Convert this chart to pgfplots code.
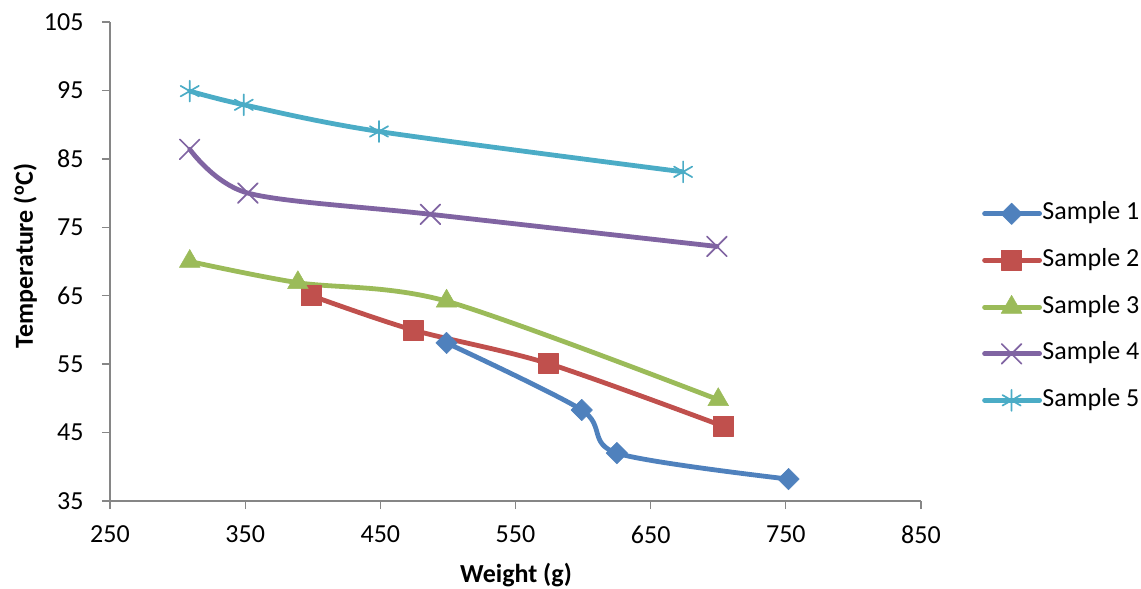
\documentclass[border=0pt]{standalone}
\usepackage{pgfplots}
\pgfplotsset{compat=1.18}
\usepackage{fontspec}
\setmainfont{Carlito}
\definecolor{sA}{HTML}{4F81BD}
\definecolor{sB}{HTML}{C0504D}
\definecolor{sC}{HTML}{9BBB59}
\definecolor{sD}{HTML}{8064A2}
\definecolor{sE}{HTML}{4BACC6}
\definecolor{axgray}{HTML}{868686}
\begin{document}
\begin{tikzpicture}
\begin{axis}[
  name=ax,
  scale only axis, width=811pt, height=479pt,
  xmin=250, xmax=850, ymin=35, ymax=105,
  xtick={250,350,...,850}, ytick={35,45,...,105},
  axis lines*=left,
  axis line style={draw=axgray, line width=1.3pt},
  major tick style={draw=axgray, line width=1.3pt},
  tick align=outside, major tick length=8pt,
  ticklabel style={font=\fontsize{26}{30}\selectfont, text=black},
  /pgf/number format/assume math mode=true,
  /pgf/number format/1000 sep={},
  yticklabel style={xshift=-15pt},
  xticklabel style={yshift=-13pt},
  clip=false,
  every axis plot/.append style={line width=4.8pt, line cap=round, line join=round, smooth, tension=0.5},
  legend style={at={(1.0752,0.624)}, anchor=north west, draw=none, fill=none,
    font=\fontsize{26}{30}\selectfont, row sep=23.5pt, inner sep=0pt,
    nodes={inner sep=0.5pt, text height=17pt, text depth=5pt}},
  legend cell align=left,
  legend image code/.code={\draw[mark repeat=2, mark phase=2, smooth=false, line width=4.8pt]
     plot coordinates {(0pt,0pt) (27pt,0pt) (55pt,0pt)};},
]
\addplot[color=sA, mark=square*, mark size=7.6pt, mark options={rotate=45, line width=0.5pt, fill=sA, draw=sA}]
  coordinates {(499,58.1) (599,48.3) (625,42) (752,38.2)};
\addlegendentry{Sample 1}
\addplot[color=sB, mark=square*, mark size=10pt, mark options={line width=0.5pt, fill=sB, draw=sB}]
  coordinates {(399,65) (474,60) (574,55.1) (704,45.9)};
\addlegendentry{Sample 2}
\addplot[color=sC, mark=triangle*, mark size=12pt, mark options={line width=0.5pt, fill=sC, draw=sC}]
  coordinates {(309,70) (389,66.9) (499,64.2) (700,49.8)};
\addlegendentry{Sample 3}
\addplot[color=sD, mark=x, mark size=14pt, mark options={line width=1.7pt, draw=sD}]
  coordinates {(309,86.4) (352,80) (487,76.9) (699,72.2)};
\addlegendentry{Sample 4}
\addplot[color=sE, mark=asterisk, mark size=10.5pt, mark options={line width=1.7pt, draw=sE}]
  coordinates {(309,94.9) (349,92.9) (449,89) (674,83.1)};
\addlegendentry{Sample 5}
\end{axis}
\node[anchor=base, font=\fontsize{26}{30}\selectfont\bfseries] at ([shift={(406pt,-81pt)}]ax.south west) {Weight (g)};
\node[rotate=90, anchor=base, font=\fontsize{26}{30}\selectfont\bfseries] at ([shift={(-77pt,245pt)}]ax.south west) {Temperature (\textsuperscript{o}C)};
\pgfresetboundingbox
\path[use as bounding box] ([shift={(-110pt,-87pt)}]ax.south west) rectangle ([shift={(220pt,22pt)}]ax.north east);
\end{tikzpicture}
\end{document}
